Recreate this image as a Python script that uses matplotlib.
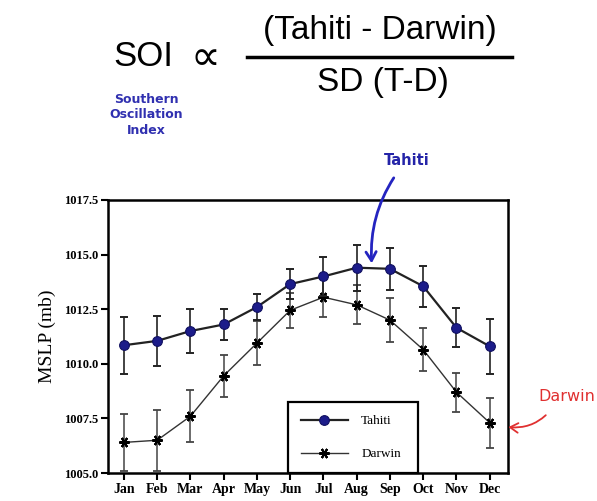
import matplotlib
matplotlib.use("Agg")
import matplotlib.pyplot as plt
import numpy as np

months = ["Jan", "Feb", "Mar", "Apr", "May", "Jun", "Jul", "Aug", "Sep", "Oct", "Nov", "Dec"]
tahiti = [1010.85, 1011.05, 1011.5, 1011.8, 1012.6, 1013.65, 1014.0, 1014.4, 1014.35, 1013.55, 1011.65, 1010.8]
tahiti_err = [1.3, 1.15, 1.0, 0.7, 0.6, 0.7, 0.9, 1.05, 0.95, 0.95, 0.9, 1.25]
darwin = [1006.4, 1006.5, 1007.6, 1009.45, 1010.95, 1012.45, 1013.05, 1012.7, 1012.0, 1010.65, 1008.7, 1007.3]
darwin_err = [1.3, 1.4, 1.2, 0.95, 1.0, 0.8, 0.9, 0.9, 1.0, 1.0, 0.9, 1.15]
yticks = [1005.0, 1007.5, 1010.0, 1012.5, 1015.0, 1017.5]

W, H = 597, 501
fig = plt.figure(figsize=(W / 100, H / 100), dpi=100)
ax = fig.add_axes([108 / W, 1 - 473 / H, 400 / W, 273 / H])

x = np.arange(1, 13)
serif = "Liberation Serif"

ax.errorbar(x, darwin, yerr=darwin_err, fmt="none", ecolor="#444444",
            elinewidth=1.1, capsize=2.8, capthick=1.3, zorder=2)
ax.plot(x, darwin, color="#333333", lw=1.0, marker=(6, 2, 90), ms=7.5,
        mec="black", mew=1.5, label="Darwin", zorder=3)
ax.errorbar(x, tahiti, yerr=tahiti_err, fmt="none", ecolor="#222222",
            elinewidth=1.2, capsize=2.8, capthick=1.4, zorder=4)
ax.plot(x, tahiti, color="#222222", lw=1.6, marker="o", ms=7,
        mfc="#1c1c8a", mec="#101060", mew=0.8, label="Tahiti", zorder=5)

ax.set_xlim(0.52, 12.55)
ax.set_ylim(1005.0, 1017.5)
ax.set_xticks(x)
ax.set_xticklabels(months, fontfamily=serif, fontweight="bold", fontsize=10)
ax.set_yticks(yticks)
ax.set_yticklabels([f"{v:.1f}" for v in yticks], fontfamily=serif,
                   fontweight="bold", fontsize=9)
ax.tick_params(direction="out", length=5, width=1.5, pad=2)
for s in ax.spines.values():
    s.set_linewidth(1.8)
ax.set_ylabel("MSLP (mb)", fontfamily=serif, fontsize=14, labelpad=6)

handles, labels = ax.get_legend_handles_labels()
leg = ax.legend(handles[::-1], labels[::-1], loc="lower left",
                bbox_to_anchor=(0.45, 0.0, 0.325, 0.256), mode="expand",
                borderaxespad=0, fancybox=False, edgecolor="black",
                framealpha=1, handlelength=3.6, labelspacing=1.6,
                borderpad=0.95, handletextpad=1.0,
                prop={"family": serif, "size": 9.5})
leg.get_frame().set_linewidth(1.6)

# Annotations
ax.annotate("Tahiti", xy=(8.45, 1014.6), xytext=(9.5, 1019.3),
            xycoords="data", textcoords="data", ha="center", va="center",
            color="#2424a8", fontsize=10.5, fontweight="bold",
            fontfamily="DejaVu Sans", annotation_clip=False,
            arrowprops=dict(arrowstyle="->,head_length=0.6,head_width=0.35",
                            color="#2424c0", lw=2.0,
                            connectionstyle="arc3,rad=0.2",
                            shrinkA=6, shrinkB=0))
ax.annotate("Darwin", xy=(12.56, 1007.1), xytext=(13.45, 1008.5),
            xycoords="data", textcoords="data", ha="left", va="center",
            color="#e03030", fontsize=11.5, fontfamily="DejaVu Sans",
            annotation_clip=False,
            arrowprops=dict(arrowstyle="->,head_length=0.5,head_width=0.3",
                            color="#e03030", lw=1.3,
                            connectionstyle="arc3,rad=-0.3",
                            shrinkA=8, shrinkB=0,
                            relpos=(0.3, 0.0)))

# Formula header
sans = "Liberation Sans"
fig.text(143 / W, 1 - 57 / H, "SOI", fontfamily=sans, fontsize=25,
         ha="center", va="center")
fig.text(205 / W, 1 - 58 / H, "\u221d", fontfamily="DejaVu Sans", fontsize=30,
         ha="center", va="center")
fig.text(380 / W, 1 - 30 / H, "(Tahiti - Darwin)", fontfamily=sans,
         fontsize=24, ha="center", va="center")
fig.text(383 / W, 1 - 82 / H, "SD (T-D)", fontfamily=sans, fontsize=24,
         ha="center", va="center")
fig.add_artist(plt.Line2D([247 / W, 512 / W], [1 - 57 / H, 1 - 57 / H],
                          color="black", lw=2.5))
fig.text(146 / W, 1 - 115 / H, "Southern\nOscillation\nIndex",
         fontfamily="DejaVu Sans", fontweight="bold", fontsize=9,
         color="#3030b0", ha="center", va="center", linespacing=1.25)

fig.savefig("out.png", dpi=100)
